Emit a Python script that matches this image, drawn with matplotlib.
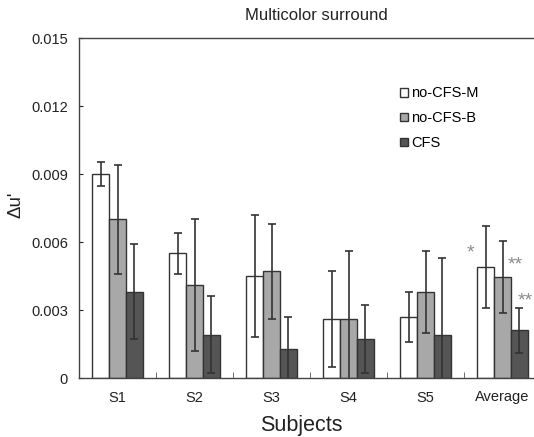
import matplotlib
matplotlib.use("Agg")
import matplotlib.pyplot as plt
import numpy as np

plt.rcParams['font.family'] = ['Liberation Sans', 'DejaVu Sans']

subjects = ["S1", "S2", "S3", "S4", "S5", "Average"]
series_names = ["no-CFS-M", "no-CFS-B", "CFS"]
no_cfs_m = [0.0090, 0.0055, 0.0045, 0.0026, 0.0027, 0.0049]
no_cfs_m_err = [0.00055, 0.0009, 0.0027, 0.0021, 0.0011, 0.0018]
no_cfs_b = [0.0070, 0.0041, 0.0047, 0.0026, 0.0038, 0.00445]
no_cfs_b_err = [0.0024, 0.0029, 0.0021, 0.0030, 0.0018, 0.0016]
cfs = [0.0038, 0.0019, 0.0013, 0.0017, 0.0019, 0.0021]
cfs_err = [0.0021, 0.0017, 0.0014, 0.0015, 0.0034, 0.0010]
yticks = [0, 0.003, 0.006, 0.009, 0.012, 0.015]
ytick_labels = ["0", "0.003", "0.006", "0.009", "0.012", "0.015"]

colors = ["#ffffff", "#a8a8a8", "#555555"]
edge = "#333333"

fig = plt.figure(figsize=(5.34, 4.37), dpi=100)
ax = fig.add_axes([79/534, (437-378)/437, 462/534, 340/437])

x = np.arange(len(subjects))
w = 0.22
data = [(no_cfs_m, no_cfs_m_err), (no_cfs_b, no_cfs_b_err), (cfs, cfs_err)]
for i, ((vals, errs), c, name) in enumerate(zip(data, colors, series_names)):
    ax.bar(x + (i - 1) * w, vals, w, color=c, edgecolor=edge, linewidth=1.0,
           yerr=errs, capsize=3, error_kw=dict(ecolor="#333333", elinewidth=1.2, capthick=1.2),
           label=name, zorder=2)

ax.set_xlim(-0.5, 5.5)
ax.set_ylim(0, 0.015)
ax.set_yticks(yticks)
ax.set_yticklabels(ytick_labels)
ax.set_xticks(x)
ax.set_xticklabels(subjects)
ax.set_xticks(np.arange(0.5, 5.5, 1), minor=True)
ax.tick_params(axis='x', which='major', length=0, pad=9, labelsize=10.5, colors="#222222")
ax.tick_params(axis='x', which='minor', direction='in', length=4, color="#555555")
ax.tick_params(axis='y', direction='in', length=3, pad=8, labelsize=10.5, colors="#222222")
for s in ["left", "bottom", "top", "right"]:
    ax.spines[s].set_color("#444444")
    ax.spines[s].set_linewidth(1.0)

fig.text(301/534, 1 - 426/437, "Subjects", ha="center", va="center", fontsize=15.5, color="#222222")
fig.text(16/534, 1 - 205/437, "\u0394u'", ha="center", va="center", rotation=90, fontsize=13.5, color="#222222")
fig.text(316/534, 1 - 16/437, "Multicolor surround", ha="center", va="center", fontsize=12, color="#222222")

leg = ax.legend(loc="upper left", bbox_to_anchor=((393-79)/462, (378-79)/340), frameon=False,
                fontsize=10.5, handlelength=0.55, handleheight=0.55, handletextpad=0.2,
                labelspacing=0.75, borderpad=0)

star_color = "#8c8c8c"
ax.text(4.59, 0.0055, "*", ha="center", va="center", fontsize=14, color=star_color)
ax.text(5.16, 0.0050, "**", ha="center", va="center", fontsize=14, color=star_color)
ax.text(5.30, 0.0034, "**", ha="center", va="center", fontsize=14, color=star_color)

fig.savefig("out.png", dpi=100)
